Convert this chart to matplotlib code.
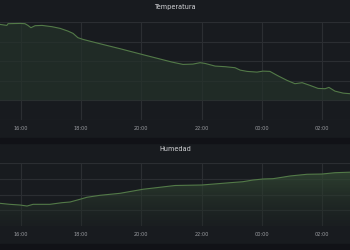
import numpy as np
import matplotlib
matplotlib.use("Agg")
import matplotlib.pyplot as plt
from matplotlib.patches import Rectangle

# -------------------- Data --------------------
# time in hours (24 = 00:00 next day)
temp_t = [15.30, 15.53, 15.57, 15.97, 16.13, 16.23, 16.33, 16.47, 16.70, 17.03,
          17.30, 17.56, 17.73, 17.89, 18.06, 18.62, 19.29, 20.02, 21.02, 21.38,
          21.71, 21.95, 22.11, 22.45, 22.78, 23.11, 23.28, 23.51, 23.84, 24.04,
          24.27, 24.51, 24.84, 25.10, 25.34, 25.60, 25.87, 26.10, 26.23, 26.43,
          26.70, 26.93]
temp_v = [19.39, 19.13, 19.57, 19.64, 19.57, 19.13, 18.55, 19.06, 19.13, 18.80,
          18.37, 17.68, 17.09, 16.00, 15.56, 14.46, 13.19, 11.73, 9.77, 9.18,
          9.26, 9.62, 9.44, 8.75, 8.60, 8.34, 7.73, 7.40, 7.22, 7.47,
          7.40, 6.38, 5.10, 4.26, 4.52, 3.83, 3.06, 2.98, 3.32, 2.37,
          1.86, 1.71]

hum_t = [15.30, 15.63, 15.97, 16.20, 16.40, 16.96, 17.36, 17.63, 17.96, 18.19,
         18.62, 19.29, 20.05, 21.12, 22.01, 22.94, 23.37, 23.71, 24.04, 24.37,
         24.67, 24.94, 25.50, 26.00, 26.43, 26.93]
hum_v = [36.0, 34.4, 33.3, 31.7, 34.4, 34.4, 37.0, 38.1, 42.4, 45.6,
         48.7, 51.9, 58.3, 64.3, 65.1, 68.7, 70.3, 73.0, 74.6, 75.1,
         77.3, 79.4, 82.1, 82.5, 84.6, 85.4]

tick_pos = [16, 18, 20, 22, 24, 26]
tick_lbl = ["16:00", "18:00", "20:00", "22:00", "00:00", "02:00"]

# -------------------- Style --------------------
PAGE = "#111217"
PANEL = "#181b1f"
GRID = "#2b2e32"
LINE = "#537a48"
TXT = "#d8d9dc"
TICK = "#9a9ca1"

W, H = 350, 250
fig = plt.figure(figsize=(3.5, 2.5), dpi=100, facecolor=PANEL)

# dark bands between panels
for y0, y1 in [(138, 143), (244, 250)]:
    fig.patches.append(Rectangle((0, 1 - y1 / H), 1, (y1 - y0) / H,
                                 transform=fig.transFigure, color=PAGE, zorder=0))


def panel(top, bottom, title, title_y):
    ax = fig.add_axes([0, 1 - bottom / H, 1, (bottom - top) / H])
    ax.set_facecolor(PANEL)
    for s in ax.spines.values():
        s.set_visible(False)
    ax.set_xlim(15.302, 26.93)
    ax.set_xticks(tick_pos)
    ax.set_xticklabels(tick_lbl, fontsize=3.6, color=TICK)
    ax.tick_params(length=0, pad=4)
    ax.grid(True, color=GRID, lw=0.8)
    ax.set_axisbelow(True)
    fig.text(0.5, 1 - title_y / H, title, ha="center", va="center",
             fontsize=4.7, color=TXT, weight="medium")
    return ax


# -------------------- Temperatura --------------------
ax1 = panel(22, 120, "Temperatura", 7)
ax1.set_ylim(-5, 20)
ax1.set_yticks([-5, 0, 5, 10, 15, 20])
ax1.set_yticklabels([])
ax1.fill_between(temp_t, temp_v, 0, color="#24322a", alpha=0.7, lw=0, zorder=2)
ax1.plot(temp_t, temp_v, color=LINE, lw=0.8, zorder=3)

# -------------------- Humedad --------------------
ax2 = panel(163, 226, "Humedad", 149)
ax2.set_ylim(0, 100)
ax2.set_yticks([0, 25, 50, 75, 100])
ax2.set_yticklabels([])
poly = ax2.fill_between(hum_t, hum_v, 0, color="none", lw=0, zorder=2)
grad = np.linspace(0, 1, 100).reshape(-1, 1)
cmap = matplotlib.colors.LinearSegmentedColormap.from_list(
    "g", [(0.12, 0.15, 0.14, 0.3), (0.22, 0.32, 0.22, 0.85)])
img = ax2.imshow(grad, extent=[15.302, 26.93, 0, 100], origin="lower",
                 aspect="auto", cmap=cmap, zorder=2)
img.set_clip_path(poly.get_paths()[0], transform=ax2.transData)
ax2.plot(hum_t, hum_v, color=LINE, lw=0.8, zorder=3)

fig.savefig("out.png", dpi=100, facecolor=fig.get_facecolor())
